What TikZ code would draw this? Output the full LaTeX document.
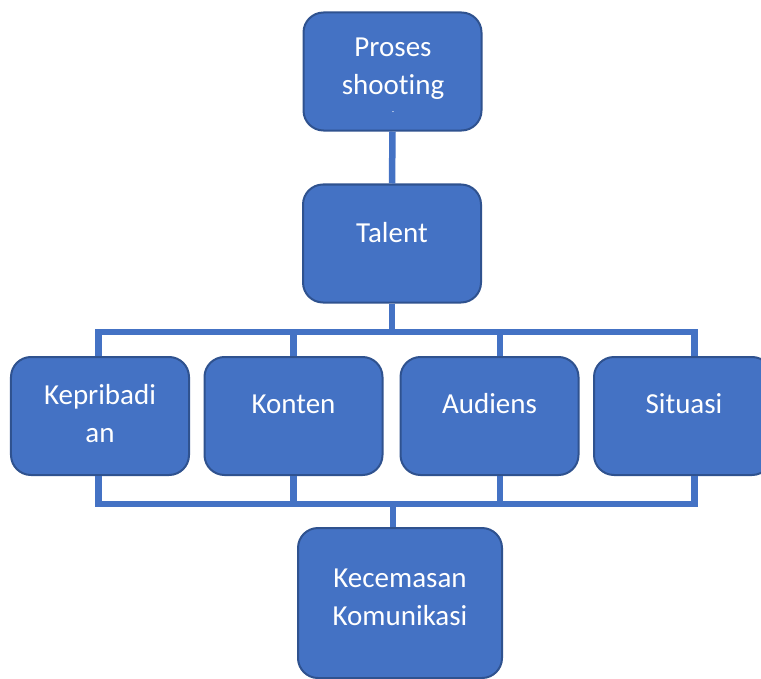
\documentclass[tikz,border=0pt]{standalone}
\usepackage{fontspec}
\setmainfont{Carlito}[Ligatures=NoCommon]
\definecolor{boxblue}{HTML}{4472C4}
\definecolor{edgeblue}{HTML}{2F528F}

\begin{document}
\begin{tikzpicture}[x=1bp,y=-1bp,
    kotak/.style={draw=edgeblue, fill=boxblue, line width=2bp, rounded corners=20bp,
        minimum width=178bp, minimum height=118bp, inner sep=0pt},
    tulisan/.style={text=white, align=center, font=\fontsize{29bp}{38bp}\selectfont},
    garis/.style={draw=boxblue, line width=6.5bp}]
    \useasboundingbox (0,0) rectangle (761,679);
    \clip (0,0) rectangle (761,679);

    \coordinate (atas) at (393,332);
    \coordinate (bawah) at (393,504);

    \node[kotak] (proses) at (392.5,71.5) {};
    \node[kotak] (talent) at (392,243.5) {};
    \node[kotak] (kepribadian) at (100,416) {};
    \node[kotak] (konten) at (293.5,416) {};
    \node[kotak] (audiens) at (489.5,416) {};
    \node[kotak] (situasi) at (683,416) {};
    \node[kotak, minimum width=204bp, minimum height=150bp] (kecemasan) at (400,603) {};

    \draw[garis] (proses.south) -- (talent.north);
    \draw[garis] (talent.south) -- (talent.south |- atas);
    \draw[garis] ([xshift=-1.5bp]kepribadian.north) |- ([xshift=11.5bp]situasi.north |- atas) -- ([xshift=11.5bp]situasi.north);
    \draw[garis] (konten.north) -- (konten.north |- atas);
    \draw[garis] ([xshift=10.5bp]audiens.north) -- ([xshift=10.5bp]audiens.north |- atas);
    \draw[garis] ([xshift=-1.5bp]kepribadian.south) |- ([xshift=11.5bp]situasi.south |- bawah) -- ([xshift=11.5bp]situasi.south);
    \draw[garis] (konten.south) -- (konten.south |- bawah);
    \draw[garis] ([xshift=10.5bp]audiens.south) -- ([xshift=10.5bp]audiens.south |- bawah);
    \draw[garis] (bawah) -- (bawah |- kecemasan.north);

    \node[tulisan] (tproses) at (393,69) {Proses\\shooting};
    \node[text=white, font=\fontsize{8bp}{8bp}\selectfont] (strip) at (393,113) {-};
    \node[tulisan] (ttalent) at (392,233) {Talent};
    \node[tulisan] (tkepribadian) at (100,414) {Kepribadi\\an};
    \node[tulisan] (tkonten) at (293.5,404) {Konten};
    \node[tulisan] (taudiens) at (489.5,404) {Audiens};
    \node[tulisan] (tsituasi) at (684,404) {Situasi};
    \node[tulisan] (tkecemasan) at (400,597) {Kecemasan\\Komunikasi};
\end{tikzpicture}
\end{document}
